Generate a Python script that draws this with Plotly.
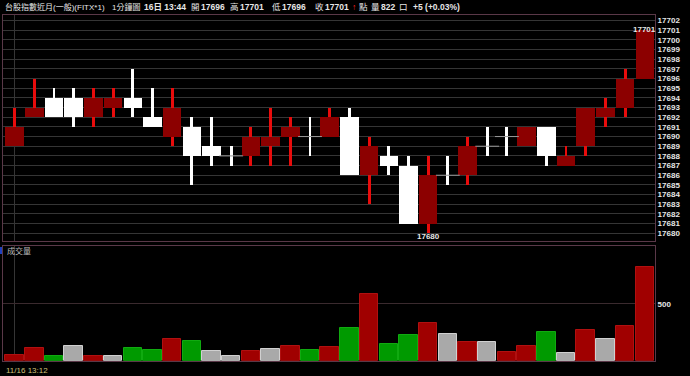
import plotly.graph_objects as go

# ---------------- data ----------------
date_label = "11/16"
day_label = "16日"
times = ["13:%02d" % m for m in range(12, 45)]          # 33 one-minute bars 13:12 .. 13:44
opens  = [17689, 17692, 17694, 17694, 17692, 17693, 17694, 17692, 17690, 17691, 17689,
          17688, 17688, 17689, 17690, 17690, 17690, 17692, 17686, 17688, 17687, 17681,
          17686, 17686, 17689, 17690, 17689, 17691, 17687, 17689, 17692, 17693, 17696]
highs  = [17693, 17696, 17695, 17695, 17695, 17695, 17697, 17695, 17695, 17692, 17692,
          17689, 17691, 17693, 17692, 17692, 17693, 17693, 17690, 17689, 17688, 17688,
          17688, 17690, 17691, 17691, 17691, 17691, 17689, 17693, 17694, 17697, 17701]
lows   = [17689, 17692, 17692, 17691, 17691, 17692, 17692, 17691, 17689, 17685, 17687,
          17687, 17687, 17687, 17687, 17688, 17690, 17686, 17683, 17686, 17681, 17680,
          17685, 17685, 17688, 17688, 17689, 17687, 17687, 17688, 17691, 17692, 17696]
closes = [17691, 17693, 17692, 17692, 17694, 17694, 17693, 17691, 17693, 17688, 17688,
          17688, 17690, 17690, 17691, 17690, 17692, 17686, 17689, 17687, 17681, 17686,
          17686, 17689, 17689, 17690, 17691, 17688, 17688, 17693, 17693, 17696, 17701]
volumes = [50, 114, 39, 129, 39, 44, 114, 91, 188, 173, 83, 41, 85, 103, 129, 94, 118,
           290, 587, 147, 226, 329, 238, 165, 165, 77, 129, 250, 70, 273, 188, 305, 822]
prev_close0 = 17690
price_ticks = list(range(17680, 17703))
volume_ticks = [500]
title_text = "台股指數近月(一般)(FITX*1)"
period_text = "1分鐘圖"
volume_title = "成交量"

# ---------------- colours ----------------
BG = "#000000"
RED_WICK = "#e80c0c"
RED_BODY = "#8c0000"
WHITE = "#ffffff"
V_RED = "#a00000"
V_GREEN = "#009a00"
V_GRAY = "#a9a9a9"
GRID = "#353535"
BORDER = "#5a3848"
TXT = "#e6e6e6"
FONT = "Liberation Sans, Noto Sans CJK TC"

n = len(closes)
x = list(range(n))

wick_col, body_base, body_len, body_col = [], [], [], []
doji_x, doji_y = [], []
for i in x:
    o, c = opens[i], closes[i]
    up = c > o
    wick_col.append(RED_WICK if up else WHITE)
    if c == o:
        body_base.append(None); body_len.append(None)
        doji_x.append(i); doji_y.append(c)
    else:
        body_base.append(min(o, c)); body_len.append(abs(c - o))
    body_col.append(RED_BODY if up else WHITE)

vol_col, vol_line = [], []
prev = prev_close0
for i in x:
    c = closes[i]
    if c > prev:
        vol_col.append(V_RED); vol_line.append("#b01010")
    elif c < prev:
        vol_col.append(V_GREEN); vol_line.append("#10aa10")
    else:
        vol_col.append(V_GRAY); vol_line.append("#d0d0d0")
    prev = c

fig = go.Figure()
# wicks
fig.add_trace(go.Bar(x=x, y=[h - l for h, l in zip(highs, lows)], base=lows, width=0.15,
                     marker=dict(color=wick_col, line=dict(width=0)),
                     xaxis="x", yaxis="y", showlegend=False, hoverinfo="skip"))
# bodies
fig.add_trace(go.Bar(x=x, y=body_len, base=body_base, width=0.94,
                     marker=dict(color=body_col, line=dict(width=0)),
                     xaxis="x", yaxis="y", showlegend=False, hoverinfo="skip"))
# doji ticks
fig.add_trace(go.Scatter(x=doji_x, y=doji_y, mode="markers",
                         marker=dict(symbol="line-ew", size=17, line=dict(color="#9a9a9a", width=1)),
                         xaxis="x", yaxis="y", showlegend=False, hoverinfo="skip"))
# volume
fig.add_trace(go.Bar(x=x, y=volumes, width=0.94,
                     marker=dict(color=vol_col, line=dict(color=vol_line, width=1)),
                     xaxis="x2", yaxis="y2", showlegend=False, hoverinfo="skip"))

W, H = 690, 376
def px(xp): return xp / W
def py(yp): return 1 - yp / H

xr = [-0.59, 32.52]
common_x = dict(range=xr, showticklabels=False, tickvals=[0], showgrid=True, gridcolor=GRID,
                zeroline=False, showline=True, mirror=True, linecolor=BORDER, linewidth=1,
                ticks="", domain=[px(3), px(655)])
fig.update_layout(
    width=W, height=H, margin=dict(l=0, r=0, t=0, b=0), autosize=False,
    paper_bgcolor=BG, plot_bgcolor=BG, barmode="overlay", bargap=0,
    xaxis=dict(anchor="y", **common_x),
    xaxis2=dict(anchor="y2", **common_x),
    yaxis=dict(domain=[py(241), py(15)], range=[17679.2, 17702.57], side="right",
               tickvals=price_ticks, ticktext=[str(v) for v in price_ticks],
               showgrid=True, gridcolor=GRID, zeroline=False, ticks="",
               tickfont=dict(family=FONT, size=8, color=TXT, weight="bold"),
               showline=True, mirror=True, linecolor=BORDER, anchor="x"),
    yaxis2=dict(domain=[py(360.7), py(246)], range=[0, 1009], side="right",
                tickvals=volume_ticks, ticktext=[str(v) for v in volume_ticks],
                showgrid=True, gridcolor="#3a2a2e", zeroline=False, ticks="",
                tickfont=dict(family=FONT, size=8, color=TXT, weight="bold"),
                showline=True, mirror=True, linecolor=BORDER, anchor="x2"),
)

ann = []
def hdr(text, xpos, color=TXT, size=8.5, bold=True):
    ann.append(dict(text=text, x=px(xpos), y=py(7), xref="paper", yref="paper",
                    xanchor="left", yanchor="middle", showarrow=False,
                    font=dict(family=FONT, size=size, color=color,
                              weight="bold" if bold else "normal")))

last = n - 1
chg = closes[last] - opens[last]
pct = chg / opens[last] * 100
hdr(title_text, 3, size=8, bold=False)
hdr(period_text, 110, size=8, bold=False)
hdr(f"{day_label} {times[last]}", 142)
hdr("開", 189, bold=False); hdr(str(opens[last]), 199)
hdr("高", 228, bold=False); hdr(str(highs[last]), 238)
hdr("低", 270, bold=False); hdr(str(lows[last]), 280)
hdr("收", 313, bold=False); hdr(str(closes[last]), 323)
hdr("↑", 350, color="#ff2020")
hdr("點", 357, bold=False)
hdr("量", 369, bold=False); hdr(str(volumes[last]), 379); hdr("口", 397, bold=False)
hdr(f"{chg:+d} ({pct:+.2f}%)", 411)

# max / min labels
imax = max(x, key=lambda i: highs[i])
imin = min(x, key=lambda i: lows[i])
ann.append(dict(text=str(highs[imax]), x=imax, y=highs[imax], xref="x", yref="y",
                xanchor="center", yanchor="middle", yshift=1, showarrow=False,
                font=dict(family=FONT, size=8, color=TXT, weight="bold")))
ann.append(dict(text=str(lows[imin]), x=imin, y=lows[imin], xref="x", yref="y",
                xanchor="center", yanchor="middle", yshift=-3, showarrow=False,
                font=dict(family=FONT, size=8, color=TXT, weight="bold")))
# volume pane title
ann.append(dict(text=volume_title, x=px(5), y=py(251), xref="paper", yref="paper",
                xanchor="left", yanchor="middle", showarrow=False,
                font=dict(family=FONT, size=8, color="#bdbdbd")))
# time label
ann.append(dict(text=f"{date_label} {times[0]}", x=px(4), y=py(370), xref="paper", yref="paper",
                xanchor="left", yanchor="middle", showarrow=False,
                font=dict(family=FONT, size=8, color="#cfc07a")))
fig.update_layout(annotations=ann)

fig.add_shape(type="rect", xref="paper", yref="paper", x0=0, x1=px(2), y0=py(254), y1=py(247),
              fillcolor="#2040c0", line=dict(width=0))

fig.write_html("out.html")
